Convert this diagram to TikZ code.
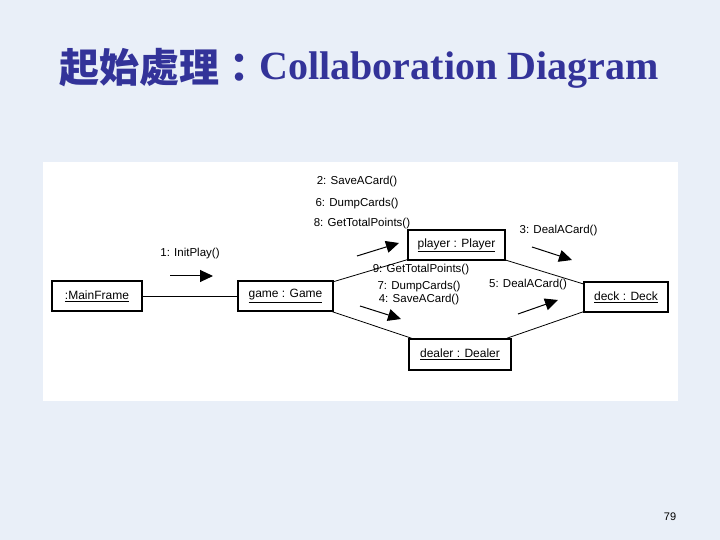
\documentclass[tikz,border=0pt]{standalone}
\usepackage{fontspec}
\setmainfont{Liberation Sans}
\newfontfamily\titlefont{Liberation Serif}
\newfontfamily\cjk{Noto Sans CJK TC}
\usetikzlibrary{arrows.meta}
\begin{document}
\begin{tikzpicture}[x=1pt,y=1pt,
  obj/.style={draw=drawColor,line width=1.6pt,inner sep=0pt,minimum height=30pt,font=\fontsize{12}{14}\selectfont},
  lnk/.style={draw=drawColor,line width=0.8pt},
  msg/.style={draw=drawColor,line width=1pt,-{Triangle[length=13pt,width=12pt]}},
  lbl/.style={text=drawColor,inner sep=0pt,outer sep=0pt,font=\fontsize{11.5}{13}\selectfont}]
\definecolor{fillColor}{RGB}{233,239,248}
\path[use as bounding box,fill=fillColor] (0,0) rectangle (720,540);
\definecolor{titleColor}{RGB}{51,51,153}

\node[text=titleColor,anchor=base,inner sep=0pt,outer sep=0pt] (title) at (359,460.5) {\fontsize{40}{46}\selectfont\raisebox{-3.5pt}{\cjk\bfseries 起始處理：}{\titlefont\bfseries Collaboration Diagram}};
\definecolor{fillColor}{RGB}{255,255,255}

\path[fill=fillColor] ( 43,139) rectangle (678,378);
\definecolor{drawColor}{RGB}{0,0,0}

\node[obj,minimum width=90pt] (mainframe) at ( 97.0,244.0) {\underline{:MainFrame}};

\node[obj,minimum width=95pt] (game) at (285.5,244.0) {\underline{game : Game}};

\node[obj,minimum width=97pt] (player) at (456.5,295.0) {\underline{player : Player}};

\node[obj,minimum width=84pt] (deck) at (626.0,243.0) {\underline{deck : Deck}};

\node[obj,minimum width=102pt,minimum height=31pt] (dealer) at (460.0,185.5) {\underline{dealer : Dealer}};

\path[lnk] (mainframe) -- (game);

\path[lnk] (game) -- (player);

\path[lnk] (game) -- (dealer);

\path[lnk] (player) -- (deck);

\path[lnk] (dealer) -- (deck);

\node[lbl] (l1) at (190.0,286.0) {1: InitPlay()};

\node[lbl] (l2) at (357.0,358.0) {2: SaveACard()};

\node[lbl] (l6) at (357.0,336.5) {6: DumpCards()};

\node[lbl] (l8) at (362.0,316.0) {8: GetTotalPoints()};

\node[lbl] (l3) at (558.5,309.0) {3: DealACard()};

\node[lbl] (l9) at (421.0,270.0) {9: GetTotalPoints()};

\node[lbl] (l7) at (419.0,253.0) {7: DumpCards()};

\node[lbl] (l4) at (419.0,240.0) {4: SaveACard()};

\node[lbl] (l5) at (528.0,255.0) {5: DealACard()};

\coordinate (a1s) at (170,264);
\coordinate (a1e) at (213,264);
\coordinate (a8s) at (357,284);
\coordinate (a8e) at (399,297);
\coordinate (a3s) at (532,293);
\coordinate (a3e) at (572,280);
\coordinate (a4s) at (360,234);
\coordinate (a4e) at (401,221);
\coordinate (a5s) at (518,226);
\coordinate (a5e) at (558,240);

\path[msg] (a1s) -- (a1e);

\path[msg] (a8s) -- (a8e);

\path[msg] (a3s) -- (a3e);

\path[msg] (a4s) -- (a4e);

\path[msg] (a5s) -- (a5e);

\node[text=drawColor,inner sep=0pt,outer sep=0pt,font=\fontsize{11}{12}\selectfont] (page) at (670,23) {79};
\end{tikzpicture}
\end{document}
